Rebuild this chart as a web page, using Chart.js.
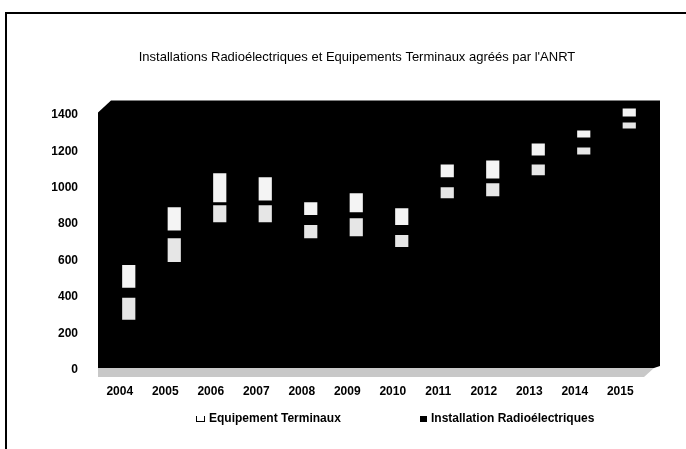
<!DOCTYPE html>
<html>
<head>
<meta charset="utf-8">
<script src="https://cdn.jsdelivr.net/npm/chart.js@4/dist/chart.umd.min.js"></script>
<style>
  html, body { margin: 0; padding: 0; background: #fff; }
  #wrap { position: relative; width: 686px; height: 449px; }
  #legend { position: absolute; left: 0; top: 410px; width: 686px; height: 16px;
            font: bold 12px "Liberation Sans", Arial, sans-serif; color: #000; }
  .item { position: absolute; top: 0; white-space: nowrap; line-height: 16px; }
  .mark { display: inline-block; width: 7px; height: 6px; margin-right: 4px; vertical-align: 0px; }
</style>
</head>
<body>
<div id="wrap">
  <canvas id="chart" width="686" height="449"></canvas>
  <div id="legend"></div>
</div>
<script>
const years = ['2004', '2005', '2006', '2007', '2008', '2009', '2010', '2011', '2012', '2013', '2014', '2015'];
const seriesNames = ['Equipement Terminaux', 'Installation Radioélectriques'];

// upper block of each year
const equipMin = [450, 765, 920, 930, 850, 865, 795, 1058, 1052, 1178, 1277, 1392];
const equipMax = [575, 893, 1080, 1058, 921, 970, 888, 1129, 1151, 1244, 1315, 1436];
// lower block of each year
const radioMin = [274, 592, 811, 811, 723, 734, 674, 943, 954, 1069, 1184, 1326];
const radioMax = [395, 723, 904, 904, 795, 833, 740, 1003, 1025, 1129, 1222, 1359];

const yTicks = [0, 200, 400, 600, 800, 1000, 1200, 1400];

const pair = (lo, hi) => lo.map((v, i) => [v, hi[i]]);

// black 3D-ish plot backdrop and the page frame
const backdrop = {
    id: 'backdrop',
    beforeDatasetsDraw(chart) {
        const { ctx, chartArea: a } = chart;
        const l = a.left - 8, r = a.right + 8, t = a.top, b = a.bottom;
        ctx.save();
        ctx.fillStyle = '#000';
        ctx.beginPath();
        ctx.moveTo(l, t + 12);
        ctx.lineTo(l + 13, t);
        ctx.lineTo(r, t);
        ctx.lineTo(r, b - 9);
        ctx.lineTo(r - 6, b - 7);
        ctx.lineTo(l, b - 7);
        ctx.closePath();
        ctx.fill();
        ctx.fillStyle = '#c8c8c8';
        ctx.beginPath();
        ctx.moveTo(l, b - 7);
        ctx.lineTo(r - 6, b - 7);
        ctx.lineTo(r - 16, b + 2);
        ctx.lineTo(l, b + 2);
        ctx.closePath();
        ctx.fill();
        ctx.restore();
    },
    afterDraw(chart) {
        const ctx = chart.ctx;
        ctx.save();
        ctx.strokeStyle = '#000';
        ctx.lineWidth = 2;
        ctx.beginPath();
        ctx.moveTo(6, 449);
        ctx.lineTo(6, 13);
        ctx.lineTo(686, 13);
        ctx.stroke();
        ctx.restore();
    }
};

const tickFont = { family: '"Liberation Sans", Arial, sans-serif', size: 12, weight: 'bold' };

new Chart(document.getElementById('chart'), {
    type: 'bar',
    data: {
        labels: years,
        datasets: [
            {
                label: seriesNames[0],
                data: pair(equipMin, equipMax),
                backgroundColor: '#f4f4f4',
                grouped: false,
                categoryPercentage: 1,
                barPercentage: 0.29
            },
            {
                label: seriesNames[1],
                data: pair(radioMin, radioMax),
                backgroundColor: '#e6e6e6',
                grouped: false,
                categoryPercentage: 1,
                barPercentage: 0.29
            }
        ]
    },
    options: {
        responsive: false,
        animation: false,
        layout: { padding: { left: 28, right: 0, top: 0, bottom: 49 } },
        plugins: {
            legend: { display: false },
            tooltip: { enabled: false },
            title: {
                display: true,
                text: 'Installations Radioélectriques et Equipements Terminaux agréés par l\'ANRT',
                color: '#000',
                font: { family: '"Liberation Sans", Arial, sans-serif', size: 13, weight: 'normal' },
                padding: { top: 50, bottom: 35 }
            }
        },
        scales: {
            x: {
                grid: { display: false },
                border: { display: false },
                ticks: { color: '#000', font: tickFont, labelOffset: -9, padding: 1 },
                afterFit(s) { s.height = 25; }
            },
            y: {
                min: -30,
                max: 1480,
                grid: { display: false },
                border: { display: false },
                afterBuildTicks(s) { s.ticks = yTicks.map(v => ({ value: v })); },
                ticks: { color: '#000', font: tickFont, padding: 20, callback: v => String(v) },
                afterFit(s) { s.width = 78; }
            },
            yR: {
                position: 'right',
                grid: { display: false },
                border: { display: false },
                ticks: { display: false },
                afterFit(s) { s.width = 34; }
            }
        }
    },
    plugins: [backdrop]
});

// legend below the plot
const legend = document.getElementById('legend');
const legendLeft = [196, 420];
const markStyle = [
    'border: 1px solid #000; border-top: none; background: #fff; height: 5px;',
    'background: #000;'
];
seriesNames.forEach((name, i) => {
    const item = document.createElement('span');
    item.className = 'item';
    item.style.left = legendLeft[i] + 'px';
    item.innerHTML = `<span class="mark" style="${markStyle[i]}"></span>${name}`;
    legend.appendChild(item);
});
</script>
</body>
</html>
